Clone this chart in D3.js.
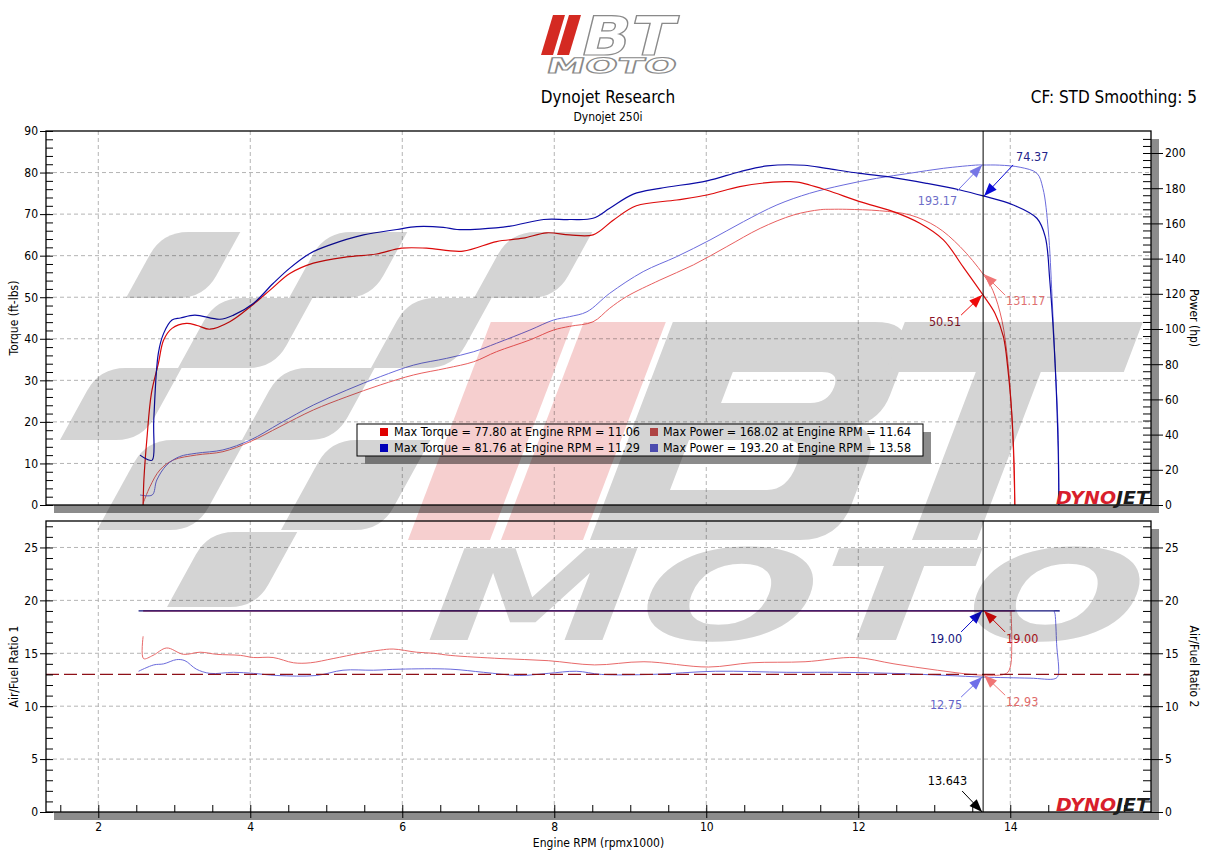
<!DOCTYPE html>
<html>
<head>
<meta charset="utf-8">
<script src="https://cdn.jsdelivr.net/npm/d3@7"></script>
<style>
  body { margin: 0; background: #fff; }
  text { font-family: "DejaVu Sans Condensed", "DejaVu Sans", sans-serif; }
</style>
</head>
<body>
<div id="chart"></div>
<script>
// ---- data: [rpm x1000, value] ----
const torqueRun1 = [[2.59,0],[2.60,6],[2.64,16],[2.70,27],[2.79,34],[2.86,39.7],[2.97,42.5],[3.16,43.7],[3.30,43.2],[3.47,42.3],[3.73,44.1],[4.0,47.7],[4.26,51.7],[4.52,55.7],[4.83,58.2],[5.27,59.7],[5.66,60.4],[5.99,61.8],[6.32,61.8],[6.80,61.1],[7.24,63.4],[7.59,64.2],[7.90,65.5],[8.2,65.0],[8.51,65.0],[8.78,68.6],[9.08,72.0],[9.61,73.4],[10.01,74.6],[10.44,76.6],[10.88,77.7],[11.06,77.8],[11.2,77.7],[11.58,75.8],[12.02,73.0],[12.46,70.6],[12.81,67.8],[13.12,63.8],[13.38,57.3],[13.643,50.51],[13.80,46.1],[13.91,40.5],[13.97,32.5],[14.02,22],[14.05,10],[14.06,0]];
const torqueRun2 = [[2.55,12.0],[2.64,11.0],[2.71,10.8],[2.73,20.4],[2.79,36.5],[2.86,41.3],[2.97,44.5],[3.08,45.0],[3.27,45.7],[3.60,44.7],[3.78,45.7],[4.04,48.5],[4.30,53.3],[4.52,57.0],[4.79,60.6],[5.05,62.6],[5.49,65.0],[5.93,66.3],[6.19,67.0],[6.54,66.8],[6.72,66.3],[7.02,66.4],[7.42,67.1],[7.86,68.7],[8.2,68.7],[8.51,69.0],[8.73,71.4],[9.04,74.8],[9.39,76.2],[10.01,78.0],[10.44,80.2],[10.80,81.6],[11.29,81.76],[11.58,81.0],[12.02,79.8],[12.46,78.8],[12.90,77.4],[13.34,75.8],[13.643,74.37],[14.04,72.2],[14.35,69.0],[14.46,64.6],[14.52,54.1],[14.59,34.1],[14.63,14.0],[14.64,0]];
const powerRun1 = [[2.59,1],[2.68,10.4],[2.81,19.9],[2.99,25.6],[3.29,28.4],[3.64,30.3],[4.0,36],[4.39,44.5],[4.83,54],[5.27,61.5],[5.71,68.2],[6.15,73.9],[6.58,77.7],[6.94,81.4],[7.24,87.1],[7.68,93.8],[7.99,99.4],[8.2,101.5],[8.51,104.1],[8.73,111.8],[8.95,118.4],[9.39,127.8],[9.83,136.4],[10.27,146.8],[10.71,157.2],[11.15,164.8],[11.50,167.8],[11.64,168.02],[11.85,168],[12.28,167.2],[12.68,164.8],[13.03,158.1],[13.34,146.8],[13.643,131.17],[13.77,122],[13.89,105],[13.97,80.5],[14.03,42.6],[14.06,0]];
const powerRun2 = [[2.55,5.7],[2.71,5.7],[2.77,14.2],[2.90,22.7],[3.07,27.5],[3.29,29.4],[3.64,31.3],[4.0,36.9],[4.39,46.4],[4.83,56.8],[5.27,65.3],[5.71,72.9],[6.15,79.5],[6.58,83.3],[6.94,87.1],[7.24,91.9],[7.68,99.4],[7.99,105.1],[8.2,107],[8.43,109.8],[8.73,120.3],[9.17,132.6],[9.61,141.1],[10.05,150.6],[10.49,161],[10.93,170.5],[11.36,177.1],[11.80,181.8],[12.24,185.6],[12.68,188.5],[13.12,191.3],[13.58,193.2],[13.643,193.17],[13.86,193.1],[14.13,191.9],[14.35,188.5],[14.43,179.9],[14.50,156.3],[14.55,118.4],[14.59,80.5],[14.63,42.6],[14.64,0]];
const afr1Run1 = [[2.59,19],[14.06,19]];
const afr1Run2 = [[2.53,19],[14.65,19]];
const afr2Run1 = [[2.59,16.6],[2.595,14.5],[2.72,14.8],[2.90,15.5],[3.12,14.9],[3.34,15.1],[3.56,14.9],[3.87,14.8],[4.04,14.6],[4.30,14.6],[4.57,14.1],[4.79,14.1],[5.09,14.5],[5.44,15.0],[5.71,15.3],[5.88,15.4],[6.19,15.1],[6.41,15.0],[6.63,14.8],[7.30,14.5],[7.92,14.3],[8.53,13.9],[9.18,14.2],[10.03,13.7],[10.59,14.1],[11.30,14.2],[11.96,14.6],[12.47,14.0],[13.04,13.4],[13.643,12.93],[13.95,13.1],[14.0,13.7],[14.02,15.9],[14.01,19.0]];
const afr2Run2 = [[2.53,13.3],[2.73,13.9],[2.86,14.0],[3.03,14.4],[3.14,14.3],[3.29,13.5],[3.47,13.1],[3.78,13.2],[4.04,13.1],[4.35,12.9],[4.87,12.9],[5.22,13.4],[5.62,13.4],[5.97,13.5],[6.63,13.5],[7.07,13.2],[7.54,12.9],[7.92,13.1],[8.29,13.3],[8.62,13.0],[9.28,13.0],[10.12,13.3],[11.06,13.2],[11.77,13.2],[12.47,13.1],[13.18,12.9],[13.643,12.75],[14.26,12.65],[14.59,12.6],[14.63,12.9],[14.61,15.9],[14.59,18.7],[14.58,19.0],[14.65,19.0]];
const afrTarget = 13.0;
const cursorRpm = 13.643;

const legendLabels = [
  "Max Torque = 77.80 at Engine RPM = 11.06",
  "Max Torque = 81.76 at Engine RPM = 11.29",
  "Max Power = 168.02 at Engine RPM = 11.64",
  "Max Power = 193.20 at Engine RPM = 13.58"
];
const rpmTicks = [2, 4, 6, 8, 10, 12, 14];
const torqueTicks = d3.range(0, 91, 10);
const powerTicks = d3.range(0, 201, 20);
const afrTicks = d3.range(0, 26, 5);

// ---- layout ----
const width = 1217, height = 867;
const m = {left: 46, right: 1151};
const upper = {top: 131, bottom: 505};
const lower = {top: 521, bottom: 812};

const svg = d3.select("#chart").append("svg")
  .attr("width", width).attr("height", height)
  .style("display", "block");

svg.append("rect").attr("width", width).attr("height", height).attr("fill", "#fff");

/* scales */
const x = d3.scaleLinear().domain([1.312, 15.852]).range([m.left, m.right]);
const yTorque = d3.scaleLinear().domain([0, 90]).range([upper.bottom, upper.top]);
const yPower = d3.scaleLinear().domain([0, 212.5]).range([upper.bottom, upper.top]);
const yAfr = d3.scaleLinear().domain([0, 27.5]).range([lower.bottom, lower.top]);

/* header */
const logo = svg.append("g");
[[541, 553], [557, 569]].forEach(([a, b]) => {
  logo.append("path")
    .attr("d", `M${a},55 L${b},55 L${b + 12},15 L${a + 12},15 Z`)
    .attr("fill", "#d42a22");
});
logo.append("text")
  .attr("transform", "translate(578,55) skewX(-14)")
  .attr("textLength", 92).attr("lengthAdjust", "spacingAndGlyphs")
  .style("font-family", "DejaVu Sans").style("font-weight", "bold")
  .style("font-size", "54px")
  .attr("fill", "#fff").attr("stroke", "#8a8a8a").attr("stroke-width", 1.2)
  .text("BT");
logo.append("text")
  .attr("transform", "translate(545,73) skewX(-14)")
  .attr("textLength", 130).attr("lengthAdjust", "spacingAndGlyphs")
  .style("font-family", "DejaVu Sans").style("font-weight", "bold")
  .style("font-size", "21px")
  .attr("fill", "#fff").attr("stroke", "#8a8a8a").attr("stroke-width", 1)
  .text("MOTO");

svg.append("text").attr("x", 608).attr("y", 103).attr("text-anchor", "middle")
  .style("font-size", "17px").text("Dynojet Research");
svg.append("text").attr("x", 608).attr("y", 121).attr("text-anchor", "middle")
  .style("font-size", "12px").text("Dynojet 250i");
svg.append("text").attr("x", 1197).attr("y", 103).attr("text-anchor", "end")
  .style("font-size", "17px").text("CF: STD Smoothing: 5");

/* frames with drop shadows */
[upper, lower].forEach(p => {
  svg.append("rect")
    .attr("x", m.left + 8).attr("y", p.top + 8)
    .attr("width", m.right - m.left).attr("height", p.bottom - p.top)
    .attr("fill", "#8c8c8c");
  svg.append("rect")
    .attr("x", m.left).attr("y", p.top)
    .attr("width", m.right - m.left).attr("height", p.bottom - p.top)
    .attr("fill", "#fff");
});

/* grids */
const grid = svg.append("g")
  .attr("stroke", "#b4b4b4").attr("stroke-dasharray", "4,3").attr("stroke-width", 1);
[upper, lower].forEach(p => {
  grid.selectAll(null).data(rpmTicks).join("line")
    .attr("x1", d => x(d)).attr("x2", d => x(d))
    .attr("y1", p.top).attr("y2", p.bottom);
});
grid.selectAll(null).data(torqueTicks.filter(d => d > 0 && d < 90)).join("line")
  .attr("x1", m.left).attr("x2", m.right)
  .attr("y1", d => yTorque(d)).attr("y2", d => yTorque(d));
grid.selectAll(null).data(afrTicks.filter(d => d > 0)).join("line")
  .attr("x1", m.left).attr("x2", m.right)
  .attr("y1", d => yAfr(d)).attr("y2", d => yAfr(d));

/* lines */
const curve = d3.curveCatmullRom.alpha(0.5);
const torqueLine = d3.line().curve(curve).x(d => x(d[0])).y(d => yTorque(d[1]));
const powerLine = d3.line().curve(curve).x(d => x(d[0])).y(d => yPower(d[1]));
const afrLine = d3.line().curve(curve).x(d => x(d[0])).y(d => yAfr(d[1]));

const series = [
  {data: powerRun1, line: powerLine, color: "#e85f5f", w: 1},
  {data: powerRun2, line: powerLine, color: "#6b6bdc", w: 1},
  {data: torqueRun1, line: torqueLine, color: "#dd0a0a", w: 1.2},
  {data: torqueRun2, line: torqueLine, color: "#0b0ba6", w: 1.2},
  {data: afr2Run1, line: afrLine, color: "#e86a6a", w: 1},
  {data: afr2Run2, line: afrLine, color: "#6b6bdc", w: 1},
  {data: afr1Run1, line: afrLine, color: "#cc0000", w: 1.2},
  {data: afr1Run2, line: afrLine, color: "#13137a", w: 1.2}
];
svg.append("g").selectAll("path").data(series).join("path")
  .attr("d", d => d.line(d.data))
  .attr("fill", "none")
  .attr("stroke", d => d.color)
  .attr("stroke-width", d => d.w);

/* AFR target reference line */
svg.append("line")
  .attr("x1", m.left).attr("x2", m.right)
  .attr("y1", yAfr(afrTarget)).attr("y2", yAfr(afrTarget))
  .attr("stroke", "#8e1018").attr("stroke-width", 1.2)
  .attr("stroke-dasharray", "13,5");

/* cursor */
[upper, lower].forEach(p => {
  svg.append("line")
    .attr("x1", x(cursorRpm)).attr("x2", x(cursorRpm))
    .attr("y1", p.top).attr("y2", p.bottom)
    .attr("stroke", "#000").attr("stroke-width", 1);
});

/* frame borders */
[upper, lower].forEach(p => {
  svg.append("rect")
    .attr("x", m.left).attr("y", p.top)
    .attr("width", m.right - m.left).attr("height", p.bottom - p.top)
    .attr("fill", "none").attr("stroke", "#000").attr("stroke-width", 1.3);
});

/* axes */
function styleAxis(g) {
  g.select(".domain").remove();
  g.selectAll("line").attr("stroke", "#000");
  g.selectAll("text").style("font-size", "12px").attr("fill", "#000")
    .style("font-family", "DejaVu Sans Condensed, DejaVu Sans, sans-serif");
}
// torque axis (left, upper)
svg.append("g").attr("transform", `translate(${m.left},0)`)
  .call(d3.axisLeft(yTorque).tickValues(torqueTicks).tickSize(6).tickPadding(2))
  .call(styleAxis);
svg.append("g").attr("transform", `translate(${m.left},0)`)
  .call(d3.axisRight(yTorque).tickValues(d3.range(0, 90.1, 2)).tickSize(7).tickFormat(""))
  .call(styleAxis);
// power axis (right, upper)
svg.append("g").attr("transform", `translate(${m.right},0)`)
  .call(d3.axisRight(yPower).tickValues(powerTicks).tickSize(12).tickPadding(2))
  .call(styleAxis);
svg.append("g").attr("transform", `translate(${m.right},0)`)
  .call(d3.axisLeft(yPower).tickValues(d3.range(0, 212, 4)).tickSize(8).tickFormat(""))
  .call(styleAxis);
// AFR axes (lower)
svg.append("g").attr("transform", `translate(${m.left},0)`)
  .call(d3.axisLeft(yAfr).tickValues(afrTicks).tickSize(6).tickPadding(2))
  .call(styleAxis);
svg.append("g").attr("transform", `translate(${m.left},0)`)
  .call(d3.axisRight(yAfr).tickValues(d3.range(0, 27.1, 1)).tickSize(7).tickFormat(""))
  .call(styleAxis);
svg.append("g").attr("transform", `translate(${m.right},0)`)
  .call(d3.axisRight(yAfr).tickValues(afrTicks).tickSize(12).tickPadding(2))
  .call(styleAxis);
svg.append("g").attr("transform", `translate(${m.right},0)`)
  .call(d3.axisLeft(yAfr).tickValues(d3.range(0, 27.1, 1)).tickSize(8).tickFormat(""))
  .call(styleAxis);
// rpm axis (bottom of lower panel)
svg.append("g").attr("transform", `translate(0,${lower.bottom})`)
  .call(d3.axisBottom(x).tickValues(rpmTicks).tickSize(6).tickPadding(4))
  .call(styleAxis);
svg.append("g").attr("transform", `translate(0,${lower.bottom})`)
  .call(d3.axisTop(x).tickValues(d3.range(1.5, 15.6, 0.5)).tickSize(7).tickFormat(""))
  .call(styleAxis);

/* axis titles */
const titles = [
  {t: "Torque (ft-lbs)", x: 18, y: (upper.top + upper.bottom) / 2, r: -90},
  {t: "Power (hp)", x: 1190, y: (upper.top + upper.bottom) / 2, r: 90},
  {t: "Air/Fuel Ratio 1", x: 18, y: (lower.top + lower.bottom) / 2, r: -90},
  {t: "Air/Fuel Ratio 2", x: 1190, y: (lower.top + lower.bottom) / 2, r: 90},
  {t: "Engine RPM (rpmx1000)", x: (m.left + m.right) / 2, y: 847, r: 0}
];
svg.append("g").selectAll("text").data(titles).join("text")
  .attr("transform", d => `translate(${d.x},${d.y}) rotate(${d.r})`)
  .attr("text-anchor", "middle")
  .style("font-size", "12px")
  .text(d => d.t);

/* dynojet badges */
[upper.bottom - 1, lower.bottom - 1].forEach(by => {
  const t = svg.append("text")
    .attr("x", 1056).attr("y", by)
    .attr("textLength", 93).attr("lengthAdjust", "spacingAndGlyphs")
    .style("font-family", "DejaVu Sans").style("font-weight", "bold")
    .style("font-style", "italic").style("font-size", "18px");
  t.append("tspan").attr("fill", "#d81e2c").text("DYNO");
  t.append("tspan").attr("fill", "#1b1b1b").text("JET");
});

/* legend */
const legend = svg.append("g");
legend.append("rect").attr("x", 365).attr("y", 432).attr("width", 566).attr("height", 32).attr("fill", "#8c8c8c");
legend.append("rect").attr("x", 357).attr("y", 424).attr("width", 566).attr("height", 32)
  .attr("fill", "#fff").attr("stroke", "#000").attr("stroke-width", 1);
const legendColors = ["#e00000", "#0000dd", "#d25050", "#5a5ad2"];
const legendPos = [[380, 394, 436], [380, 394, 452], [650, 663, 436], [650, 663, 452]];
legendLabels.forEach((lab, i) => {
  const [sx, tx, ty] = legendPos[i];
  legend.append("rect").attr("x", sx).attr("y", ty - 8).attr("width", 8).attr("height", 8)
    .attr("fill", legendColors[i]);
  legend.append("text").attr("x", tx).attr("y", ty)
    .attr("textLength", i < 2 ? 246 : 248).attr("lengthAdjust", "spacingAndGlyphs")
    .style("font-size", "12px").text(lab);
});

/* cursor annotations */
function arrow(g, x1, y1, x2, y2, color) {
  g.append("line").attr("x1", x1).attr("y1", y1).attr("x2", x2).attr("y2", y2)
    .attr("stroke", color).attr("stroke-width", 1);
  const len = Math.hypot(x2 - x1, y2 - y1), ux = (x2 - x1) / len, uy = (y2 - y1) / len;
  const bx = x2 - ux * 13, by = y2 - uy * 13;
  g.append("path")
    .attr("d", `M${x2},${y2} L${bx - uy * 5},${by + ux * 5} L${bx + uy * 5},${by - ux * 5} Z`)
    .attr("fill", color);
}
const notes = [
  {y: yTorque, v: 74.37, label: "74.37", arrowC: "#0a0ad8", textC: "#23238a", dx: 30, dy: -31, tx: 33, ty: -35, anchor: "start"},
  {y: yPower, v: 193.17, label: "193.17", arrowC: "#7676e6", textC: "#6e6ec8", dx: -26, dy: 26, tx: -26, ty: 40, anchor: "end"},
  {y: yTorque, v: 50.51, label: "50.51", arrowC: "#ee0a0a", textC: "#8c1428", dx: -22, dy: 20, tx: -22, ty: 31, anchor: "end"},
  {y: yPower, v: 131.17, label: "131.17", arrowC: "#f07575", textC: "#e07070", dx: 22, dy: 21, tx: 23, ty: 31, anchor: "start"},
  {y: yAfr, v: 19.0, label: "19.00", arrowC: "#0a0ac8", textC: "#16167e", dx: -22, dy: 21, tx: -21, ty: 32, anchor: "end"},
  {y: yAfr, v: 19.0, label: "19.00", arrowC: "#e80a0a", textC: "#c4141e", dx: 22, dy: 21, tx: 23, ty: 32, anchor: "start"},
  {y: yAfr, v: 12.75, label: "12.75", arrowC: "#6e6ee8", textC: "#6464c8", dx: -22, dy: 20, tx: -21, ty: 32, anchor: "end"},
  {y: yAfr, v: 12.93, label: "12.93", arrowC: "#f07575", textC: "#e06a6a", dx: 22, dy: 20, tx: 23, ty: 31, anchor: "start"},
  {y: yAfr, v: 0, label: cursorRpm.toFixed(3), arrowC: "#000", textC: "#000", dx: -21, dy: -21, tx: -16, ty: -27, anchor: "end"}
];
const ann = svg.append("g");
notes.forEach(n => {
  const px = x(cursorRpm), py = n.y(n.v);
  arrow(ann, px + n.dx, py + n.dy, px + (n.dx > 0 ? 1 : -1), py, n.arrowC);
  ann.append("text").attr("x", px + n.tx).attr("y", py + n.ty)
    .attr("text-anchor", n.anchor).attr("fill", n.textC)
    .style("font-size", "12.5px").text(n.label);
});

/* BT MOTO watermark (decoration, blended over everything) */
const wm = svg.append("g").style("mix-blend-mode", "multiply").style("pointer-events", "none");
const gray = "#d4d4d4";
function piece(x0, yt, yb, w, r, s) {
  const h = yb - yt, dx = s * h, len = Math.hypot(dx, h);
  const ux = dx / len, uy = -h / len;
  const br = [x0 + w, yb], tl = [x0 + dx, yt];
  return `M${x0},${yb} L${br[0] - r},${yb} Q${br[0]},${yb} ${br[0] + ux * r},${yb + uy * r}` +
    ` L${x0 + w + dx},${yt} L${tl[0] + r},${yt} Q${tl[0]},${yt} ${tl[0] - ux * r},${yt - uy * r} Z`;
}
const flagPieces = [
  [126, 232, 298, 78], [289, 232, 298, 82], [474, 232, 298, 82],
  [178, 298, 368, 96], [371, 298, 368, 82],
  [60, 368, 440, 82], [242, 368, 440, 93],
  [97, 440, 530, 99], [281, 440, 530, 100],
  [167, 532, 607, 89]
];
flagPieces.forEach(([x0, yt, yb, w]) => {
  wm.append("path").attr("d", piece(x0, yt, yb, w, 26, 0.55)).attr("fill", gray);
});
const slant = wm.append("g").attr("transform", "translate(0,540) skewX(-20.8) translate(0,-540)");
slant.append("rect").attr("x", 408).attr("y", 322).attr("width", 82).attr("height", 218).attr("fill", "#f6cfcf");
slant.append("rect").attr("x", 501).attr("y", 322).attr("width", 82).attr("height", 218).attr("fill", "#f6cfcf");
slant.append("path")
  .attr("d", "M590,540 L590,322 L792,322 Q835,322 835,362 L835,395 Q835,420 812,426 Q838,432 838,465 L838,505 Q838,540 800,540 Z " +
    "M669,372 L758,372 Q776,372 776,387 Q776,403 758,403 L669,403 Z " +
    "M651,440 L748,440 Q768,440 768,465 Q768,490 748,490 L651,490 Z")
  .attr("fill-rule", "evenodd").attr("fill", gray);
slant.append("path")
  .attr("d", "M822,322 L1060,322 L1060,372 L977,372 L977,540 L912,540 L912,372 L822,372 Z")
  .attr("fill", gray);
wm.append("text")
  .attr("transform", "translate(410,640) skewX(-20.8)")
  .attr("textLength", 720).attr("lengthAdjust", "spacingAndGlyphs")
  .style("font-family", "DejaVu Sans").style("font-weight", "bold")
  .style("font-size", "126px").attr("fill", gray)
  .text("MOTO");
</script>
</body>
</html>
